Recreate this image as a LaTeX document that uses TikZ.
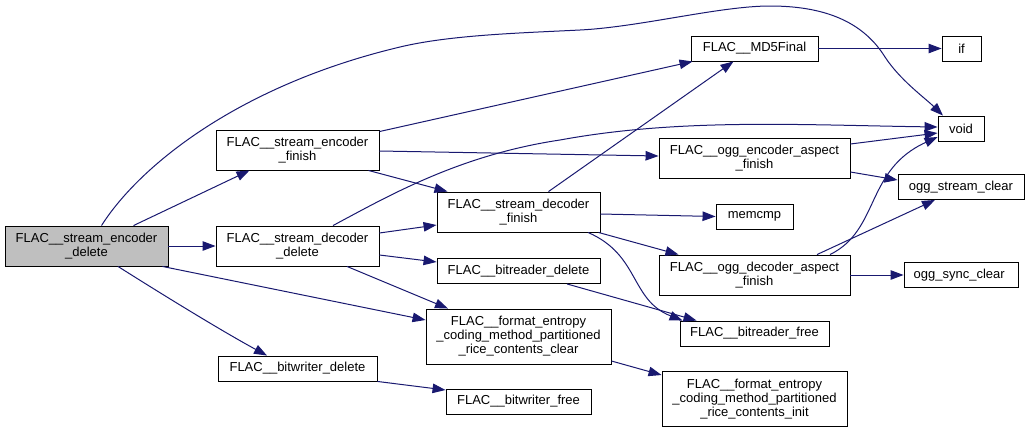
\documentclass[tikz,border=0pt]{standalone}
\usepackage{fontspec}
\setmainfont{Liberation Sans}
\usepackage{tikz}
\usetikzlibrary{arrows.meta, calc}
\definecolor{edgeblue}{RGB}{25,25,112}
\definecolor{rootgray}{RGB}{191,191,191}

\tikzset{
  fn/.style={draw=black, line width=0.9pt, rectangle, inner sep=0pt, align=center,
    font=\fontsize{13}{14}\selectfont},
  edge/.style={edgeblue, line width=1pt, -{Triangle[length=13pt,width=9.5pt]}}
}

\begin{document}
\begin{tikzpicture}[x=1pt, y=-1pt]
  \useasboundingbox (0,0) rectangle (1029,432);

  % Root node
  \node[fn, fill=rootgray, minimum width=163pt, minimum height=40pt] (encdel) at (86.5,246)
    {FLAC\_\_stream\_encoder\\\_delete};

  % Callees: name/x/y/width/height/label
  \foreach \nm/\x/\y/\w/\h/\txt in {
    encfin/297.5/150/163/40/{FLAC\_\_stream\_encoder\\\_finish},
    decdel/297.5/246/163/40/{FLAC\_\_stream\_decoder\\\_delete},
    bwdel/297.5/368.5/159/25/{FLAC\_\_bitwriter\_delete},
    decfin/518.5/212/163/40/{FLAC\_\_stream\_decoder\\\_finish},
    brdel/518.5/271/163/25/{FLAC\_\_bitreader\_delete},
    fmtclear/518.5/336.5/185/55/{FLAC\_\_format\_entropy\\\_coding\_method\_partitioned\\\_rice\_contents\_clear},
    bwfree/518.5/401.5/145/25/{FLAC\_\_bitwriter\_free},
    md5/754.5/48.5/127/25/{FLAC\_\_MD5Final},
    oggencfin/754.5/158/191/40/{FLAC\_\_ogg\_encoder\_aspect\\\_finish},
    memcmp/754.5/216.5/77/25/{memcmp},
    oggdecfin/754.5/275/191/40/{FLAC\_\_ogg\_decoder\_aspect\\\_finish},
    brfree/754.5/333.5/149/25/{FLAC\_\_bitreader\_free},
    fmtinit/754.5/399/185/55/{FLAC\_\_format\_entropy\\\_coding\_method\_partitioned\\\_rice\_contents\_init},
    if/961.5/48.5/39/25/{if},
    void/961/128.5/46/25/{void},
    oggstrclr/961/187/126/25/{ogg\_stream\_clear},
    oggsyncclr/961/275/114/25/{ogg\_sync\_clear}
  }{
    \node[fn, minimum width=\w pt, minimum height=\h pt] (\nm) at (\x,\y) {\txt};
  }

  % Calls from the root
  \draw[edge] ([xshift=15pt]encdel.north) .. controls (140,165) and (240,85) .. (400,47)
    .. controls (450,35) and (520,33) .. (580,30)
    .. controls (640,27) and (720,6) .. (770,6)
    .. controls (830,6) and (865,25) .. (885,57)
    .. controls (900,80) and (925,98) .. ([xshift=-18pt]void.north);
  \draw[edge] ([xshift=47pt]encdel.north) -- ([xshift=-48pt]encfin.south);
  \draw[edge] (encdel.east) -- (decdel.west);
  \draw[edge] ([xshift=-6pt]encdel.south east) -- ([yshift=16.5pt]fmtclear.west);
  \draw[edge] ([xshift=31.5pt]encdel.south) .. controls (160,293) and (220,330)
    .. ([xshift=-30.5pt]bwdel.north);

  % Encoder finish
  \draw[edge] ([yshift=-2pt]encfin.north east) -- ([xshift=2pt]md5.south west);
  \draw[edge] ([yshift=-1pt]encfin.east) -- ([yshift=2pt]oggencfin.west);
  \draw[edge] ([xshift=-11pt]encfin.south east) -- ([xshift=-71pt]decfin.north);

  % Decoder delete
  \draw[edge] ([xshift=35.5pt]decdel.north) .. controls (390,195) and (460,155) .. (560,140)
    .. controls (680,118) and (800,125) .. ([yshift=1.5pt]void.west);
  \draw[edge] ([yshift=13pt]decdel.east) -- ([yshift=-13pt]decfin.west);
  \draw[edge] ([yshift=-9pt]decdel.east) -- ([yshift=9pt]brdel.west);
  \draw[edge] ([xshift=49.5pt]decdel.south) -- ([xshift=-70.5pt]fmtclear.north);

  % Decoder finish
  \draw[edge] ([xshift=30pt]decfin.north) -- ([xshift=-21pt]md5.south);
  \draw[edge] ([yshift=-2pt]decfin.east) -- (memcmp.west);
  \draw[edge] ([xshift=-2pt]decfin.south east) -- ([xshift=-76pt]oggdecfin.north);
  \draw[edge] ([xshift=69.5pt]decfin.south) .. controls (640,255) and (630,300)
    .. ([xshift=3pt]brfree.north west);
  \draw[edge] ([xshift=48.5pt]brdel.south) -- ([xshift=17pt]brfree.north west);

  % Ogg aspects
  \draw[edge] ([yshift=14pt]oggencfin.east) -- ([yshift=-4.5pt]void.west);
  \draw[edge] ([yshift=-14pt]oggencfin.east) -- ([yshift=7pt]oggstrclr.west);
  \draw[edge] ([xshift=75.5pt]oggdecfin.north) .. controls (880,230) and (865,170)
    .. ([yshift=-8.5pt]void.west);
  \draw[edge] ([xshift=62.5pt]oggdecfin.north) -- ([xshift=-26pt]oggstrclr.south);
  \draw[edge] (oggdecfin.east) -- (oggsyncclr.west);

  % Leaves
  \draw[edge] (md5.east) -- (if.west);
  \draw[edge] ([yshift=-24.5pt]fmtclear.east) -- ([yshift=24pt]fmtinit.west);
  \draw[edge] (bwdel.south east) -- ([yshift=11.5pt]bwfree.west);
\end{tikzpicture}
\end{document}
